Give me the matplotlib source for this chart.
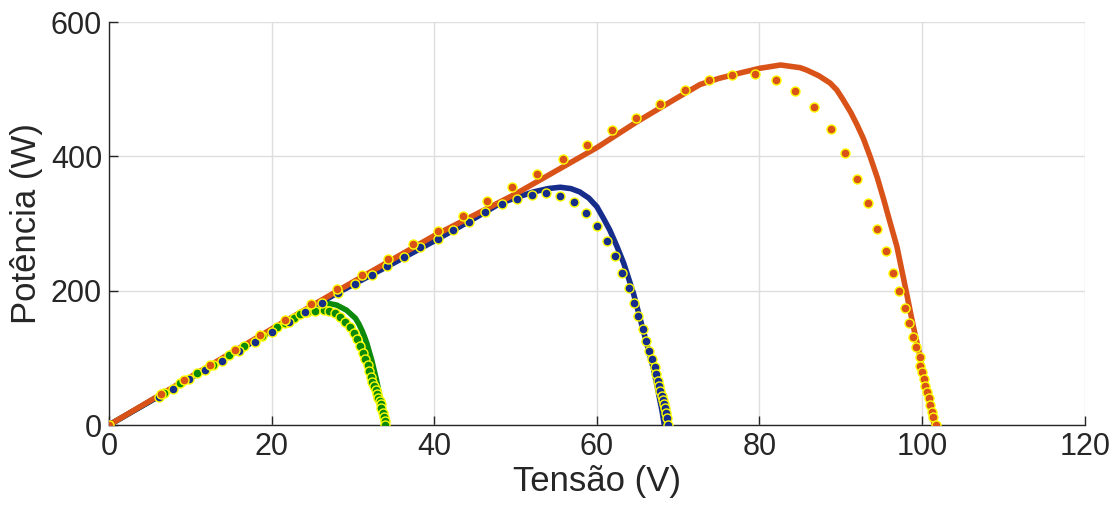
import matplotlib
matplotlib.use("Agg")
import matplotlib.pyplot as plt

# continuous P-V curves (V, W)
v_green = [0, 10, 20, 25, 26.2, 27, 28, 29.2, 30.3, 30.7, 31.1, 31.4, 31.7, 32.3, 32.9,
           33.4, 33.8, 33.9]
p_green = [0, 70, 140, 175, 179, 181, 178.6, 171, 159, 151, 141, 132, 122, 97, 67,
           37, 12, 0]

v_blue = [0, 10, 20, 28, 35, 40.3, 45, 48.1, 50.2, 52.2, 54, 55.5, 56.8, 57.9, 58.5, 59, 60,
          60.8, 61.6, 62.5, 63.3, 64.5, 65.7, 67, 68, 68.3]
p_blue = [0, 70, 140, 196, 241, 276, 308, 330, 339, 347, 352, 354, 352, 347, 342, 338, 325,
          308, 290, 265, 241, 196, 141, 82, 22, 0]

v_orange = [0, 10, 20, 30, 40, 50, 60, 65, 70, 72.7, 75, 77.6, 80, 82.6, 85, 85.8, 87.3,
            88.7, 89.5, 90.2, 91.2, 92.0, 92.8, 93.6, 94.5, 95.3, 96.1, 96.9, 97.5, 98.1,
            98.6, 99.1, 99.6, 100, 100.4, 100.8, 101.1, 101.4, 101.5]
p_orange = [0, 71.5, 143, 213, 282, 344, 413, 452, 488, 507, 516, 524, 531, 536, 532, 528.5,
            520, 509, 499, 486, 466, 447, 426, 400, 368, 335, 300, 266, 231, 196,
            166, 137, 111, 87, 62, 37, 20, 5, 0]

# sampled points
vs_green = [6.8, 8.7, 10.8, 12.8, 14.8, 16.6, 18.8, 20.6, 21.7, 22.7, 23.5, 24.3, 25.3, 26.4,
            27.1, 27.8, 28.4, 29.0, 29.6, 30.1, 30.5, 30.9, 31.2, 31.5, 31.8, 32.0, 32.2, 32.4,
            32.6, 32.8, 32.9, 33.1, 33.3, 33.4, 33.5, 33.7, 33.8, 33.9, 34.0]
ps_green = [48, 62, 77, 89, 104, 118, 132.5, 145.4, 152.3, 158.8, 164.8, 168.2, 170.2, 171.2,
            169.7, 166.3, 160.3, 153.8, 146.4, 137.4, 127.6, 117.6, 107.6, 98.3, 89.3, 80.8,
            71.9, 64.5, 58, 52.1, 46.2, 40.7, 36.2, 31.3, 24.8, 18.3, 12.4, 6.4, 0]

vs_blue = [6.2, 7.9, 9.8, 11.8, 13.9, 16.0, 18.0, 20.1, 22.1, 24.1, 26.2, 28.2, 30.3, 32.3,
           34.2, 36.3, 38.3, 40.4, 42.3, 44.3, 46.3, 48.3, 50.2, 52.0, 53.8, 55.5, 57.2, 58.7,
           60.0, 61.2, 62.2, 63.1, 63.9, 64.6, 65.1, 65.7, 66.0, 66.4, 66.8, 67.1, 67.3, 67.5,
           67.7, 67.8, 68.0, 68.1, 68.2, 68.4, 68.5, 68.6, 68.8]
ps_blue = [42, 54, 68.5, 82, 95.8, 110, 124, 138, 153, 167.8, 181, 196, 209.5, 223.3, 236.7,
           250.6, 264.5, 277, 290.3, 302.2, 316.6, 328.6, 337, 342.9, 345, 341, 331.5, 316,
           296.7, 274, 251.6, 226.7, 204.4, 182, 162.3, 142.5, 125.5, 110.7, 98, 86.5, 75.8,
           66, 58, 50.6, 43.7, 37, 31, 24.8, 17.4, 10, 0]

vs_orange = [0, 6.4, 9.2, 12.4, 15.5, 18.6, 21.7, 24.9, 28.0, 31.1, 34.3, 37.4, 40.5, 43.5,
             46.5, 49.6, 52.6, 55.8, 58.8, 61.9, 64.8, 67.8, 70.8, 73.8, 76.6, 79.5, 82.0,
             84.4, 86.7, 88.8, 90.5, 92.0, 93.4, 94.5, 95.6, 96.4, 97.2, 97.9, 98.4, 98.9,
             99.3, 99.7, 99.8, 100.0, 100.2, 100.4, 100.6, 100.8, 101.0, 101.2, 101.4, 101.7]
ps_orange = [0, 45.7, 67, 88.9, 112, 134.5, 156, 179.7, 202, 223.3, 247.1, 269, 289.3, 311.2,
             333, 353.9, 373.7, 396, 417.4, 438.7, 457.6, 478.4, 498.7, 514, 521, 522.6, 514,
             497.7, 473, 441, 405.4, 367, 330, 292.5, 259, 227, 200, 173.7, 151.9, 131.3,
             116.6, 101.4, 87.8, 78.5, 68.5, 58.5, 49.6, 39.7, 29.8, 19.8, 12.4, 0]

green = '#0b8a0b'
blue = '#162d8c'
orange = '#d95319'
txt = '#262626'

plt.rcParams['font.family'] = ['Liberation Sans', 'DejaVu Sans']

fig = plt.figure(figsize=(11.15, 5.19), dpi=100)
ax = fig.add_axes([0.0978, 0.1811, 0.875, 0.7765])

lw = 4.0
for v, p, c in ((v_green, p_green, green), (v_blue, p_blue, blue), (v_orange, p_orange, orange)):
    ax.plot(v, p, color=c, lw=lw, solid_capstyle='round', solid_joinstyle='round', zorder=3)

mk = dict(linestyle='none', marker='o', markersize=6.5, markeredgecolor='#ffff00',
          markeredgewidth=1.0, zorder=4)
ax.plot(vs_green, ps_green, markerfacecolor=green, **mk)
ax.plot(vs_blue, ps_blue, markerfacecolor=blue, **mk)
ax.plot(vs_orange, ps_orange, markerfacecolor=orange, **mk)

ax.set_xlim(0, 120)
ax.set_ylim(0, 600)
ax.set_xticks(range(0, 121, 20))
ax.set_yticks(range(0, 601, 200))
ax.grid(True, color='#dedede', lw=1.0)
ax.set_axisbelow(True)

for s in ('top', 'right'):
    ax.spines[s].set_visible(False)
for s in ('left', 'bottom'):
    ax.spines[s].set_color(txt)
    ax.spines[s].set_linewidth(1.0)

ax.tick_params(direction='in', length=6.5, width=1.0, colors=txt, labelsize=22, pad=5)
ax.set_xlabel('Tensão (V)', fontsize=25, color=txt, labelpad=2)
ax.set_ylabel('Potência (W)', fontsize=25, color=txt, labelpad=6)

fig.savefig('out.png', dpi=100)
